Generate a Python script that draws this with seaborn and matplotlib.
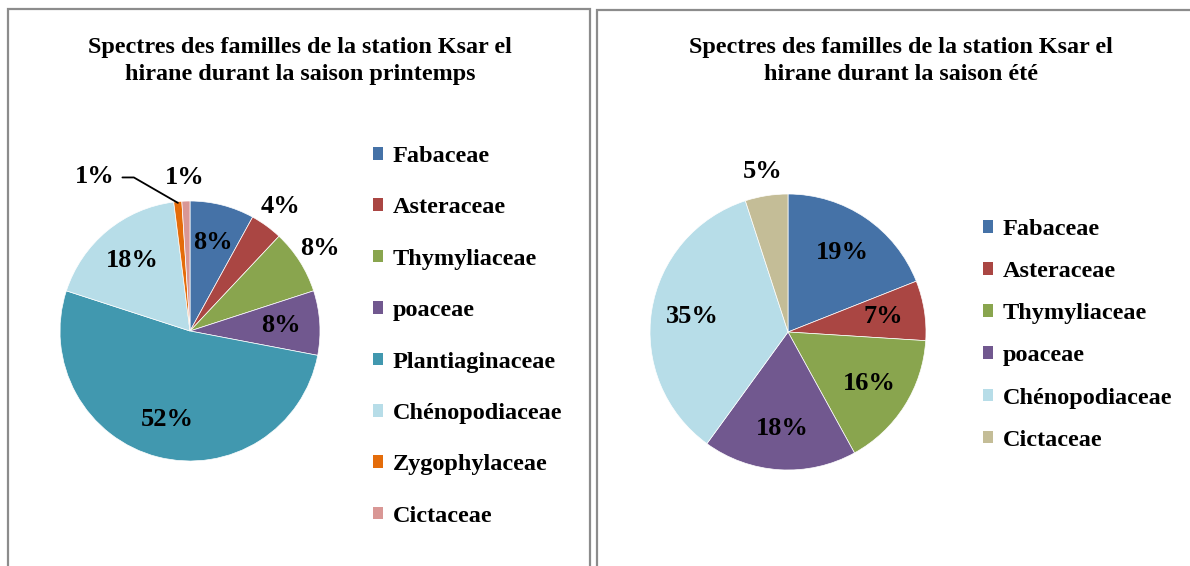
import matplotlib
matplotlib.use('Agg')
import matplotlib.pyplot as plt
import seaborn as sns
from matplotlib.patches import Rectangle, Patch
import numpy as np

# Données : printemps
familles_printemps = ['Fabaceae', 'Asteraceae', 'Thymyliaceae', 'poaceae',
                      'Plantiaginaceae', 'Chénopodiaceae', 'Zygophylaceae', 'Cictaceae']
pct_printemps = [8, 4, 8, 8, 52, 18, 1, 1]
couleurs_printemps = ['#4572A7', '#AA4643', '#89A54E', '#71588F',
                      '#4198AF', '#B7DDE8', '#E46C0A', '#D99795']
dehors_printemps = ['Asteraceae', 'Thymyliaceae', 'Cictaceae']

# Données : été
familles_ete = ['Fabaceae', 'Asteraceae', 'Thymyliaceae', 'poaceae',
                'Chénopodiaceae', 'Cictaceae']
pct_ete = [19, 7, 16, 18, 35, 5]
couleurs_ete = ['#4572A7', '#AA4643', '#89A54E', '#71588F', '#B7DDE8', '#C4BD97']
dehors_ete = ['Cictaceae']

titre_printemps = 'Spectres des familles de la station Ksar el\nhirane durant la saison printemps'
titre_ete = 'Spectres des familles de la station Ksar el\nhirane durant la saison été'

sns.set_theme(style='white')
plt.rcParams['font.family'] = ['Liberation Serif', 'DejaVu Serif']
plt.rcParams['font.weight'] = 'bold'
plt.rcParams['text.color'] = 'black'

W, H = 1190, 566
fig = plt.figure(figsize=(W / 100, H / 100), dpi=100)


def px_axes(cx, cy, r):
    # axes carré centré sur (cx, cy) en pixels (y depuis le haut)
    return fig.add_axes([(cx - r) / W, (H - cy - r) / H, 2 * r / W, 2 * r / H])


def camembert(ax, noms, valeurs, couleurs, dehors, sans_etiquette=()):
    wedges, _ = ax.pie(valeurs, colors=sns.color_palette(couleurs), startangle=90,
                       counterclock=False, radius=1,
                       wedgeprops=dict(edgecolor='white', linewidth=0.5))
    total = sum(valeurs)
    cum = 0
    for nom, v in zip(noms, valeurs):
        mid = np.deg2rad(90 - (cum + v / 2) / total * 360)
        cum += v
        if nom in sans_etiquette:
            continue
        r = 1.18 if nom in dehors else 0.7
        ax.text(r * np.cos(mid), r * np.sin(mid), f'{v}%', ha='center', va='center',
                fontsize=19, fontweight='bold', color='black')
    ax.set_xlim(-1, 1)
    ax.set_ylim(-1, 1)
    ax.set_aspect('equal')
    ax.axis('off')
    return wedges


# Camembert printemps
ax1 = px_axes(190, 331, 130)
camembert(ax1, familles_printemps, pct_printemps, couleurs_printemps, dehors_printemps,
          sans_etiquette=['Zygophylaceae'])
# étiquette Zygophylaceae avec trait de rappel
cum = sum(pct_printemps[:6]) + pct_printemps[6] / 2
ang = np.deg2rad(90 - cum / 100 * 360)
ax1.annotate(f'{pct_printemps[6]}%', xy=(0.99 * np.cos(ang), 0.99 * np.sin(ang)),
             xytext=(-0.73, 1.19), ha='center', va='center', fontsize=19,
             fontweight='bold', annotation_clip=False,
             arrowprops=dict(arrowstyle='-', color='black', lw=1.3, shrinkA=3, shrinkB=0,
                             relpos=(1.0, 0.45),
                             connectionstyle='angle,angleA=0,angleB=-30,rad=0'))

# Camembert été
ax2 = px_axes(788, 332, 138)
camembert(ax2, familles_ete, pct_ete, couleurs_ete, dehors_ete)

# Légendes
poignees1 = [Patch(facecolor=c, edgecolor='none', label=n)
             for n, c in zip(familles_printemps, couleurs_printemps)]
fig.legend(handles=poignees1, loc='upper left', bbox_to_anchor=(373 / W, 1 - 146 / H),
           frameon=False, prop={'weight': 'bold', 'size': 17.5},
           handlelength=0.42, handleheight=0.42, handletextpad=0.38,
           labelspacing=1.25, borderpad=0, borderaxespad=0)

poignees2 = [Patch(facecolor=c, edgecolor='none', label=n)
             for n, c in zip(familles_ete, couleurs_ete)]
fig.legend(handles=poignees2, loc='upper left', bbox_to_anchor=(983 / W, 1 - 219 / H),
           frameon=False, prop={'weight': 'bold', 'size': 17.5},
           handlelength=0.42, handleheight=0.42, handletextpad=0.38,
           labelspacing=0.87, borderpad=0, borderaxespad=0)

# Titres
fig.text(300 / W, 1 - 61 / H, titre_printemps, ha='center', va='center',
         fontsize=17.4, fontweight='bold', linespacing=1.33)
fig.text(901 / W, 1 - 61 / H, titre_ete, ha='center', va='center',
         fontsize=17.4, fontweight='bold', linespacing=1.33)

# Cadres des graphiques
fig.add_artist(Rectangle((8 / W, -0.05), (590 - 8) / W, 1.05 - 9 / H,
                         transform=fig.transFigure, fill=False,
                         edgecolor='#8c8c8c', linewidth=1.6))
fig.add_artist(Rectangle((597 / W, -0.05), 0.5, 1.05 - 10 / H,
                         transform=fig.transFigure, fill=False,
                         edgecolor='#8c8c8c', linewidth=1.6))

fig.savefig('out.png', dpi=100, facecolor='white')
